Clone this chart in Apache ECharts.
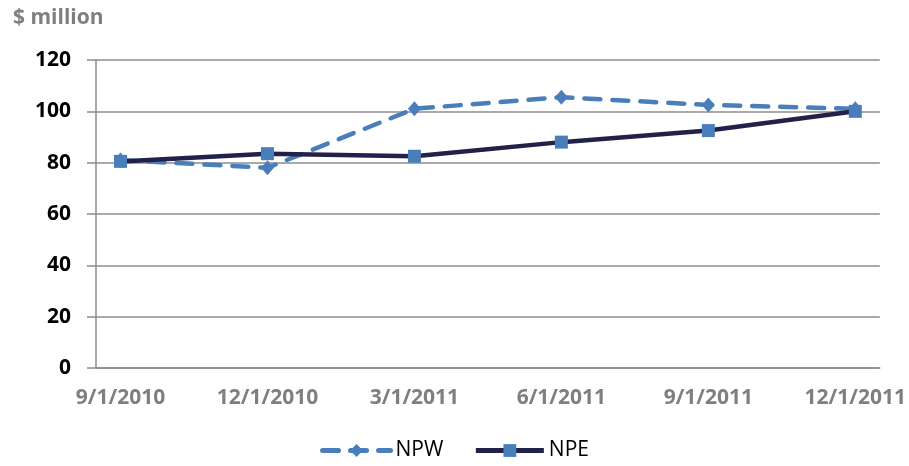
<!DOCTYPE html>
<html>
<head>
<meta charset="utf-8">
<script src="https://cdn.jsdelivr.net/npm/echarts@6/dist/echarts.min.js"></script>
<style>
  html, body { margin: 0; padding: 0; background: #fff; }
  #main { width: 909px; height: 466px; }
</style>
</head>
<body>
<div id="main"></div>
<script>
// monthly date axis (Excel date axis, base unit = month)
var months = ['9/1/2010', '10/1/2010', '11/1/2010', '12/1/2010', '1/1/2011', '2/1/2011',
  '3/1/2011', '4/1/2011', '5/1/2011', '6/1/2011', '7/1/2011', '8/1/2011',
  '9/1/2011', '10/1/2011', '11/1/2011', '12/1/2011'];
var dates = ['9/1/2010', '12/1/2010', '3/1/2011', '6/1/2011', '9/1/2011', '12/1/2011'];
var npw = [81, 78, 101, 105.5, 102.5, 101];
var npe = [80.5, 83.5, 82.5, 88, 92.5, 100];
var yTicks = [0, 20, 40, 60, 80, 100, 120];

function toMonthly(vals) {
  var out = months.map(function () { return null; });
  dates.forEach(function (d, i) { out[months.indexOf(d)] = vals[i]; });
  return out;
}

var myChart = echarts.init(document.getElementById('main'));
var font = '"Open Sans", "Liberation Sans", sans-serif';

var option = {
  animation: false,
  textStyle: { fontFamily: font },
  title: {
    text: '$ million',
    left: 8,
    top: 3,
    textStyle: { color: '#7f7f7f', fontSize: 21, fontWeight: 'bold', fontFamily: font }
  },
  legend: {
    bottom: 0,
    left: 'center',
    itemWidth: 68,
    itemHeight: 16,
    itemGap: 30,
    textStyle: { color: '#000', fontSize: 21, fontFamily: font },
    data: [
      { name: 'NPW', lineStyle: { width: 5 } },
      { name: 'NPE', lineStyle: { width: 5 } }
    ]
  },
  grid: { left: 96, right: 29, top: 60, bottom: 98 },
  xAxis: {
    type: 'category',
    data: months,
    boundaryGap: true,
    axisLine: { lineStyle: { color: '#8c8c8c', width: 1.5 } },
    axisTick: { show: false },
    axisLabel: {
      interval: 2,
      color: '#7f7f7f',
      fontSize: 21,
      fontWeight: 'bold',
      margin: 20,
      fontFamily: font
    },
    splitLine: { show: false }
  },
  yAxis: {
    type: 'value',
    min: yTicks[0],
    max: yTicks[yTicks.length - 1],
    interval: 20,
    axisLine: { show: true, lineStyle: { color: '#8c8c8c', width: 1.5 } },
    axisTick: { show: true, length: 9, lineStyle: { color: '#8c8c8c', width: 1.5 } },
    axisLabel: { color: '#000', fontSize: 21, fontWeight: 'bold', margin: 25, fontFamily: font },
    splitLine: { lineStyle: { color: '#8c8c8c', width: 1.5 } }
  },
  series: [
    {
      name: 'NPW',
      type: 'line',
      data: toMonthly(npw),
      connectNulls: true,
      symbol: 'diamond',
      symbolSize: [13, 15],
      lineStyle: { color: '#4a7ebb', width: 4.5, type: [16, 12], cap: 'round' },
      itemStyle: { color: '#4a7ebb' },
      z: 2
    },
    {
      name: 'NPE',
      type: 'line',
      data: toMonthly(npe),
      connectNulls: true,
      symbol: 'rect',
      symbolSize: 13,
      lineStyle: { color: '#22214a', width: 4.5 },
      itemStyle: { color: '#4a7ebb' },
      z: 3
    }
  ]
};
myChart.setOption(option);
</script>
</body>
</html>
